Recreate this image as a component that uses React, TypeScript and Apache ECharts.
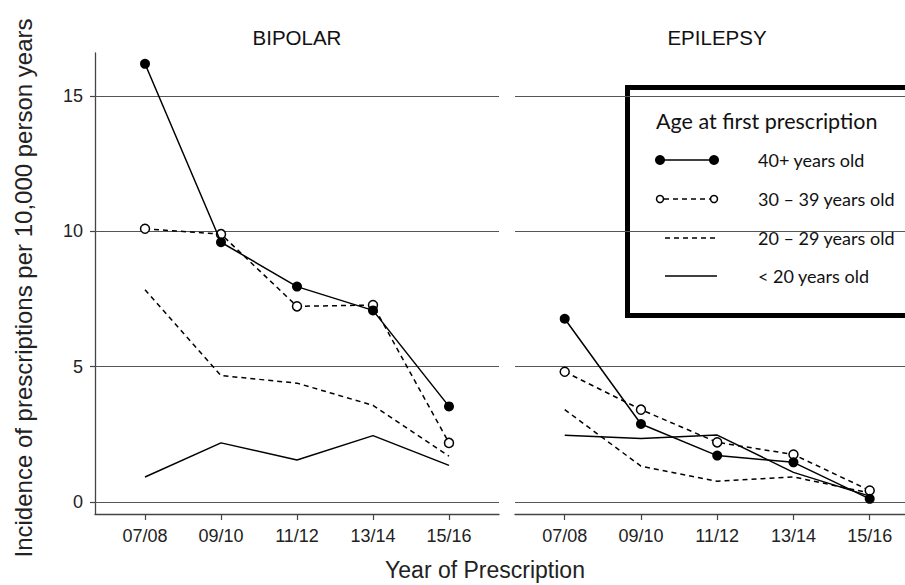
import React, { useEffect, useRef } from "react";
import * as echarts from "echarts";

const categories = ["07/08", "09/10", "11/12", "13/14", "15/16"];
const panelTitles = ["BIPOLAR", "EPILEPSY"];
const yTicks = [0, 5, 10, 15];
const xTickIdx = [0, 1, 2, 3, 4];

const bipolar40 = [16.2, 9.6, 7.96, 7.08, 3.53];
const bipolar30 = [10.1, 9.9, 7.23, 7.28, 2.18];
const bipolar20 = [7.84, 4.67, 4.39, 3.57, 1.69];
const bipolarU20 = [0.92, 2.18, 1.55, 2.45, 1.35];

const epi40 = [6.77, 2.88, 1.71, 1.46, 0.11];
const epi30 = [4.81, 3.41, 2.2, 1.75, 0.42];
const epi20 = [3.41, 1.32, 0.76, 0.92, 0.33];
const epiU20 = [2.46, 2.34, 2.47, 1.09, 0.21];

const legendTitle = "Age at first prescription";
const legendLabels = ["40+ years old", "30 \u2013 39 years old", "20 \u2013 29 years old", "< 20 years old"];

const AX = "Liberation Sans, Arial, sans-serif";
const LG = "Lato, 'Open Sans', sans-serif";

const toPts = (arr: number[]) => arr.map((v, i) => [i, v]);

function seriesFor(gi: number, s40: number[], s30: number[], s20: number[], su20: number[]) {
  return [
    {
      type: "line",
      xAxisIndex: gi,
      yAxisIndex: gi,
      data: toPts(su20),
      symbol: "none",
      lineStyle: { color: "#000", width: 1.5, type: "solid" },
      markLine: {
        silent: true,
        symbol: "none",
        label: { show: false },
        lineStyle: { color: "#555", width: 1, type: "solid" },
        data: yTicks.map((t) => ({ yAxis: t })),
        z: 1,
      },
      z: 3,
    },
    {
      type: "line",
      xAxisIndex: gi,
      yAxisIndex: gi,
      data: toPts(s20),
      symbol: "none",
      lineStyle: { color: "#000", width: 1.5, type: [5, 4] },
      z: 3,
    },
    {
      type: "line",
      xAxisIndex: gi,
      yAxisIndex: gi,
      data: toPts(s30),
      symbol: "circle",
      symbolSize: 9,
      itemStyle: { color: "#fff", borderColor: "#000", borderWidth: 1.5 },
      lineStyle: { color: "#000", width: 1.5, type: [5, 4] },
      z: 4,
    },
    {
      type: "line",
      xAxisIndex: gi,
      yAxisIndex: gi,
      data: toPts(s40),
      symbol: "circle",
      symbolSize: 10,
      itemStyle: { color: "#000", borderColor: "#000", borderWidth: 0 },
      lineStyle: { color: "#000", width: 1.5, type: "solid" },
      z: 5,
    },
  ];
}

export default function App() {
  const ref = useRef<HTMLDivElement>(null);
  useEffect(() => {
    if (!ref.current) return;
    const chart = echarts.init(ref.current, undefined, { renderer: "svg" });
    const yMin = -0.45;
    const yMax = 16.6;
    const legendX = 627.5;
    const rows = [160, 199, 238, 276];
    const option: any = {
      animation: false,
      backgroundColor: "#fff",
      grid: [
        { left: 95, right: 406, top: 53, bottom: 71 },
        { left: 515, right: 0, top: 53, bottom: 71 },
      ],
      xAxis: [0, 1].map((gi) => ({
        type: "value",
        gridIndex: gi,
        min: gi === 0 ? -0.658 : -0.652,
        max: gi === 0 ? 4.658 : 4.463,
        splitLine: { show: false },
        axisLine: { show: true, onZero: false, lineStyle: { color: "#444", width: 1.3 } },
        axisTick: { show: true, length: 6, customValues: xTickIdx, lineStyle: { color: "#444", width: 1.2 } },
        axisLabel: {
          customValues: xTickIdx,
          formatter: (v: number) => categories[Math.round(v)] ?? "",
          fontFamily: AX,
          fontSize: 18,
          color: "#222",
          margin: 13,
        },
      })),
      yAxis: [0, 1].map((gi) => ({
        type: "value",
        gridIndex: gi,
        min: yMin,
        max: yMax,
        splitLine: { show: false },
        axisLine: { show: gi === 0, onZero: false, lineStyle: { color: "#444", width: 1.3 } },
        axisTick: { show: gi === 0, length: 5, customValues: yTicks, lineStyle: { color: "#444", width: 1.2 } },
        axisLabel: {
          show: gi === 0,
          customValues: yTicks,
          fontFamily: AX,
          fontSize: 18,
          color: "#222",
          margin: 12,
        },
      })),
      series: [
        ...seriesFor(0, bipolar40, bipolar30, bipolar20, bipolarU20),
        ...seriesFor(1, epi40, epi30, epi20, epiU20),
      ],
      graphic: [
        {
          type: "text",
          x: 297,
          y: 37,
          style: { text: panelTitles[0], font: `20.5px ${AX}`, fill: "#111", textAlign: "center", textVerticalAlign: "middle" },
        },
        {
          type: "text",
          x: 717,
          y: 37,
          style: { text: panelTitles[1], font: `20.5px ${AX}`, fill: "#111", textAlign: "center", textVerticalAlign: "middle" },
        },
        {
          type: "text",
          x: 23,
          y: 288,
          rotation: Math.PI / 2,
          style: {
            text: "Incidence of prescriptions per 10,000 person years",
            font: `24px ${AX}`,
            fill: "#222",
            textAlign: "center",
            textVerticalAlign: "middle",
          },
        },
        {
          type: "text",
          x: 485,
          y: 570,
          style: { text: "Year of Prescription", font: `23px ${AX}`, fill: "#222", textAlign: "center", textVerticalAlign: "middle" },
        },
        {
          type: "group",
          z: 100,
          children: [
            {
              type: "rect",
              shape: { x: legendX, y: 87.5, width: 300, height: 228 },
              style: { fill: "#fff", stroke: "#000", lineWidth: 5 },
            },
            {
              type: "text",
              x: 656,
              y: 121,
              style: { text: legendTitle, font: `21.5px ${LG}`, fill: "#111", textAlign: "left", textVerticalAlign: "middle" },
            },
            ...legendLabels.map((t, i) => ({
              type: "text",
              x: 758,
              y: rows[i],
              style: { text: t, font: `18px ${LG}`, fill: "#111", textAlign: "left", textVerticalAlign: "middle" },
            })),
            { type: "line", shape: { x1: 660, y1: rows[0], x2: 714, y2: rows[0] }, style: { stroke: "#000", lineWidth: 1.5 } },
            { type: "circle", shape: { cx: 660, cy: rows[0], r: 5 }, style: { fill: "#000" } },
            { type: "circle", shape: { cx: 714, cy: rows[0], r: 5 }, style: { fill: "#000" } },
            {
              type: "line",
              shape: { x1: 664, y1: rows[1], x2: 710, y2: rows[1] },
              style: { stroke: "#000", lineWidth: 1.5, lineDash: [5, 4] },
            },
            { type: "circle", shape: { cx: 660, cy: rows[1], r: 3.5 }, style: { fill: "#fff", stroke: "#000", lineWidth: 1.5 } },
            { type: "circle", shape: { cx: 714, cy: rows[1], r: 3.5 }, style: { fill: "#fff", stroke: "#000", lineWidth: 1.5 } },
            {
              type: "line",
              shape: { x1: 665, y1: rows[2], x2: 717, y2: rows[2] },
              style: { stroke: "#000", lineWidth: 1.5, lineDash: [5, 4] },
            },
            { type: "line", shape: { x1: 665, y1: rows[3], x2: 717, y2: rows[3] }, style: { stroke: "#000", lineWidth: 1.5 } },
          ],
        },
      ],
    };
    chart.setOption(option);
    return () => chart.dispose();
  }, []);
  return <div ref={ref} style={{ width: 905, height: 585, position: "absolute", left: 0, top: 0 }} />;
}
